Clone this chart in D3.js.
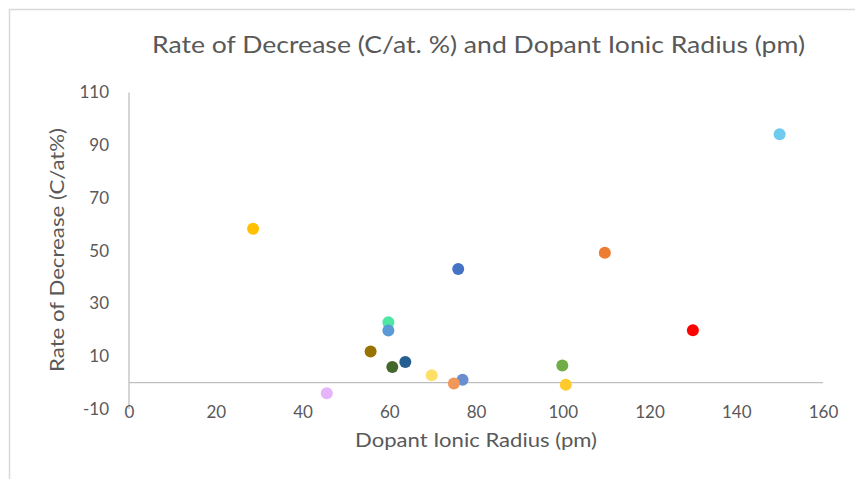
<!DOCTYPE html>
<html>
<head>
<meta charset="UTF-8">
<title>Rate of Decrease and Dopant Ionic Radius</title>
<script src="https://d3js.org/d3.v7.min.js"></script>
<style>
  body { margin: 0; background: #fff; }
  text { font-family: Lato, "Open Sans", sans-serif; fill: #595959; }
</style>
</head>
<body>
<div id="chart"></div>
<script>
// data
var radius = [28.6, 150, 109.7, 75.9, 130, 59.8, 59.8, 55.7, 60.7, 63.7, 69.8, 76.9, 74.9, 99.9, 100.7, 45.6];
var rate   = [58.3, 94.2, 49.2, 43.1, 19.9, 22.9, 19.8, 11.8, 5.9, 7.8, 2.8, 1.1, -0.3, 6.5, -0.8, -4.0];
var xTicks = [0, 20, 40, 60, 80, 100, 120, 140, 160];
var yTicks = [-10, 10, 30, 50, 70, 90, 110];

// one colour per point
var pointColors = ["#FFC000", "#6ECBEF", "#ED7D31", "#4472C4", "#FF0000", "#4FE8A2", "#5B9BD5",
                   "#997300", "#43682B", "#255E91", "#FFE066", "#698ED0", "#F1975A", "#70AD47",
                   "#FFCA2C", "#E6B4FA"];

var W = 855, H = 479;
var svg = d3.select("#chart").append("svg")
    .attr("width", W)
    .attr("height", H);

// chart frame (runs off the right and bottom edge)
svg.append("rect")
    .attr("x", 9.5).attr("y", 9.5)
    .attr("width", 900).attr("height", 500)
    .attr("fill", "none")
    .attr("stroke", "#D9D9D9")
    .attr("stroke-width", 1.5);

var x = d3.scaleLinear().domain([0, 160]).range([129, 823]);
var y = d3.scaleLinear().domain([-10, 110]).range([409, 92.5]);

// plain hyphen for negatives, like the original
var fmt = function(d) { return String(d); };

// vertical axis line
svg.append("line")
    .attr("x1", x(0)).attr("x2", x(0))
    .attr("y1", y(110)).attr("y2", y(-10))
    .attr("stroke", "#BFBFBF").attr("stroke-width", 1.3);

// horizontal axis crosses at 0
svg.append("line")
    .attr("x1", x(0)).attr("x2", x(160))
    .attr("y1", y(0)).attr("y2", y(0))
    .attr("stroke", "#BFBFBF").attr("stroke-width", 1.3);

// y tick labels
var yAxis = d3.axisLeft(y).tickValues(yTicks).tickFormat(fmt).tickSize(0).tickPadding(20);
var gy = svg.append("g").attr("transform", "translate(" + x(0) + ",0)").call(yAxis);
gy.select(".domain").remove();
gy.selectAll("text").style("font-size", "17px").attr("fill", "#595959");

// x tick labels (sit at the bottom of the plot, not on the zero line)
var xAxis = d3.axisBottom(x).tickValues(xTicks).tickFormat(fmt).tickSize(0).tickPadding(0);
var gx = svg.append("g").attr("transform", "translate(0," + (y(-10) - 3) + ")").call(xAxis);
gx.select(".domain").remove();
gx.selectAll("text").style("font-size", "17px").attr("fill", "#595959");

// points
svg.selectAll("circle.pt")
    .data(radius)
    .enter()
    .append("circle")
      .attr("class", "pt")
      .attr("cx", function(d) { return x(d); })
      .attr("cy", function(d, i) { return y(rate[i]); })
      .attr("r", 6)
      .attr("fill", function(d, i) { return pointColors[i]; });

// titles
svg.append("text")
    .attr("x", 478.5).attr("y", 53)
    .attr("text-anchor", "middle")
    .attr("textLength", 653)
    .attr("lengthAdjust", "spacingAndGlyphs")
    .style("font-size", "24px")
    .text("Rate of Decrease (C/at. %) and Dopant Ionic Radius (pm)");

svg.append("text")
    .attr("x", 476).attr("y", 447)
    .attr("text-anchor", "middle")
    .attr("textLength", 242)
    .attr("lengthAdjust", "spacingAndGlyphs")
    .style("font-size", "19.5px")
    .text("Dopant Ionic Radius (pm)");

svg.append("text")
    .attr("transform", "translate(64,250) rotate(-90)")
    .attr("text-anchor", "middle")
    .attr("textLength", 244)
    .attr("lengthAdjust", "spacingAndGlyphs")
    .style("font-size", "19.5px")
    .text("Rate of Decrease (C/at%)");
</script>
</body>
</html>
